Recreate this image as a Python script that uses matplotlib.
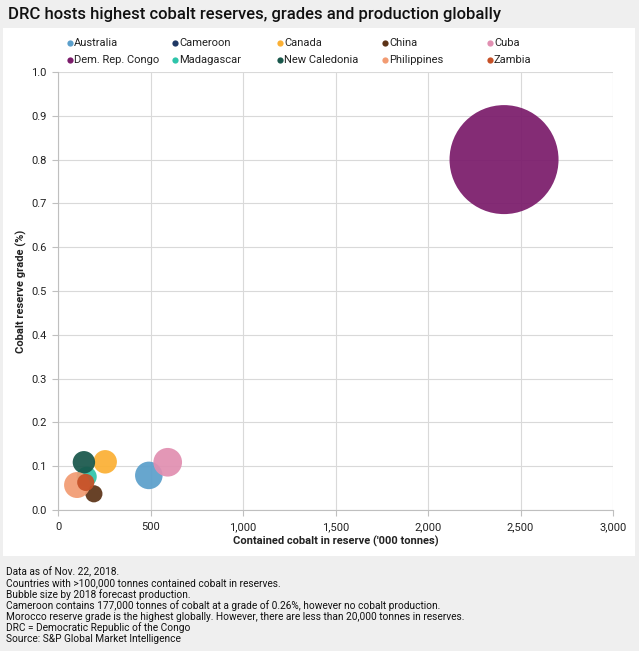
import matplotlib
matplotlib.use('Agg')
import matplotlib.pyplot as plt
from matplotlib.patches import Rectangle
from matplotlib.ticker import FuncFormatter

# ---------------- data ----------------
countries = ['Australia', 'Cameroon', 'Canada', 'China', 'Cuba',
             'Dem. Rep. Congo', 'Madagascar', 'New Caledonia', 'Philippines', 'Zambia']
reserves = [491, 177, 255, 194, 593, 2411, 155, 140, 103, 150]          # '000 tonnes
grades = [0.079, 0.26, 0.110, 0.037, 0.109, 0.80, 0.076, 0.109, 0.057, 0.063]  # %
production = [6.2, 0.0, 4.5, 2.4, 6.7, 97.0, 3.3, 4.1, 5.5, 2.4]         # bubble size
colors = ['#5b9fcb', '#1f3864', '#fbb034', '#5c3317', '#e18fb1',
          '#7b1c6b', '#2ec4aa', '#18574b', '#f29b72', '#c65127']
x_ticks = [0, 500, 1000, 1500, 2000, 2500, 3000]
y_ticks = [0.0, 0.1, 0.2, 0.3, 0.4, 0.5, 0.6, 0.7, 0.8, 0.9, 1.0]

title = 'DRC hosts highest cobalt reserves, grades and production globally'
x_label = "Contained cobalt in reserve ('000 tonnes)"
y_label = 'Cobalt reserve grade (%)'
notes = [
    'Data as of Nov. 22, 2018.',
    'Countries with >100,000 tonnes contained cobalt in reserves.',
    'Bubble size by 2018 forecast production.',
    'Cameroon contains 177,000 tonnes of cobalt at a grade of 0.26%, however no cobalt production.',
    'Morocco reserve grade is the highest globally. However, there are less than 20,000 tonnes in reserves.',
    'DRC = Democratic Republic of the Congo',
    'Source: S&P Global Market Intelligence',
]

FONT = ['Roboto', 'DejaVu Sans']
plt.rcParams['font.family'] = FONT

W, H = 639, 651
fig = plt.figure(figsize=(W / 100, H / 100), dpi=100, facecolor='#efefef')

# overlay in pixel coordinates
ov = fig.add_axes([0, 0, 1, 1], zorder=0)
ov.set_xlim(0, W)
ov.set_ylim(H, 0)
ov.axis('off')
ov.patch.set_alpha(0)
ov.add_patch(Rectangle((3, 28), 632, 528, facecolor='white', edgecolor='none'))

ov.text(8, 14.5, title, fontsize=12, fontweight='medium', color='#111111', va='center', ha='left')

# legend
for i, (name, col) in enumerate(zip(countries, colors)):
    cx = 70 + (i % 5) * 105
    cy = 43 + (i // 5) * 17
    ov.plot([cx], [cy], marker='o', markersize=4.5, color=col, markeredgewidth=0)
    ov.text(cx + 4, cy, name, fontsize=8, color='#222222', va='center', ha='left')

ov.text(21, 291, y_label, rotation=90, fontsize=8, fontweight='bold', color='#222222',
        ha='center', va='center')
ov.text(335.5, 541, x_label, fontsize=8, fontweight='bold', color='#222222',
        ha='center', va='center')

for k, line in enumerate(notes):
    ov.text(6, 571.5 + k * 11.3, line, fontsize=7.3, color='#111111', va='center', ha='left')

# main axes
L, R, T, B = 58, 613, 72, 510
ax = fig.add_axes([L / W, (H - B) / H, (R - L) / W, (B - T) / H], zorder=1)
ax.set_facecolor('white')

smax = (2 * 54.5 * 0.72) ** 2
pmax = max(production)
sizes = [p / pmax * smax for p in production]
ax.scatter(reserves, grades, s=sizes, c=colors, alpha=0.93, edgecolors='none', zorder=3)

ax.set_xlim(x_ticks[0], x_ticks[-1])
ax.set_ylim(y_ticks[0], y_ticks[-1])
ax.set_xticks(x_ticks)
ax.set_yticks(y_ticks)
ax.xaxis.set_major_formatter(FuncFormatter(lambda v, p: f'{int(v):,}'))
ax.yaxis.set_major_formatter(FuncFormatter(lambda v, p: f'{v:.1f}'))
ax.grid(True, color='#d9d9d9', linewidth=0.8, zorder=0)
ax.set_axisbelow(True)
for s in ['top', 'right']:
    ax.spines[s].set_visible(False)
for s in ['left', 'bottom']:
    ax.spines[s].set_color('#bfbfbf')
    ax.spines[s].set_linewidth(0.8)
ax.tick_params(axis='both', direction='out', length=4, width=0.8, color='#bfbfbf',
               labelsize=8, labelcolor='#222222')
ax.tick_params(axis='x', pad=5)
ax.tick_params(axis='y', pad=4)

fig.savefig('out.png', dpi=100, facecolor=fig.get_facecolor())
